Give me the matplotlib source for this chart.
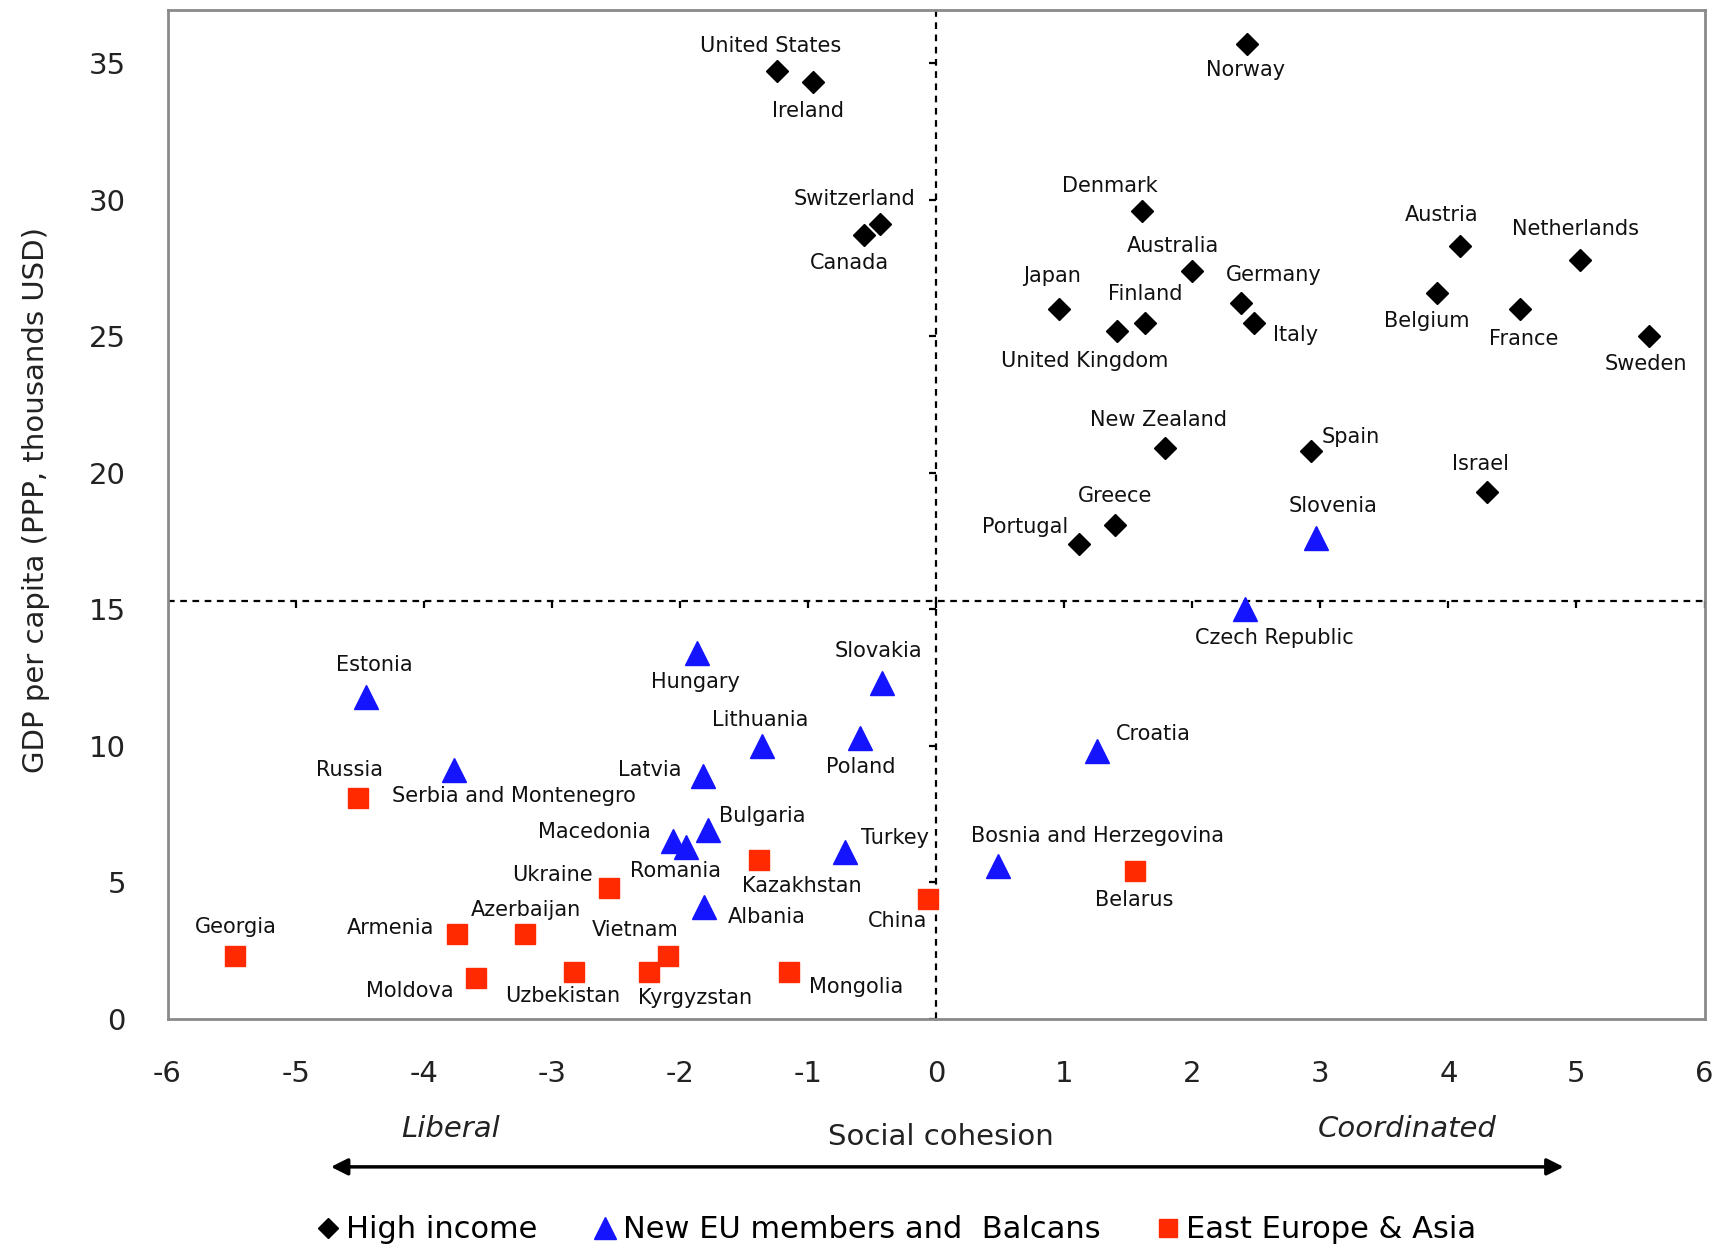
import matplotlib
matplotlib.use("Agg")
import matplotlib.pyplot as plt
import numpy as np

plt.rcParams['axes.unicode_minus'] = False

# --- data --------------------------------------------------------------
high_names = ["United States", "Ireland", "Norway", "Switzerland", "Canada",
              "Denmark", "Austria", "Netherlands", "Australia", "Germany",
              "Japan", "Belgium", "France", "Finland", "Italy",
              "United Kingdom", "Sweden", "New Zealand", "Spain", "Israel",
              "Greece", "Portugal"]
high_x = [-1.24, -0.96, 2.43, -0.44, -0.56, 1.61, 4.09, 5.03, 2.00, 2.38,
          0.96, 3.91, 4.56, 1.63, 2.48, 1.41, 5.57, 1.79, 2.93, 4.30,
          1.40, 1.12]
high_y = [34.7, 34.3, 35.7, 29.1, 28.7, 29.6, 28.3, 27.8, 27.4, 26.2,
          26.0, 26.6, 26.0, 25.5, 25.5, 25.2, 25.0, 20.9, 20.8, 19.3,
          18.1, 17.4]

eu_names = ["Slovenia", "Czech Republic", "Hungary", "Slovakia", "Estonia",
            "Croatia", "Lithuania", "Poland", "Serbia and Montenegro",
            "Latvia", "Bulgaria", "Macedonia", "Romania", "Turkey",
            "Bosnia and Herzegovina", "Albania"]
eu_x = [2.97, 2.41, -1.87, -0.42, -4.45, 1.26, -1.36, -0.59, -3.76,
        -1.82, -1.78, -2.05, -1.95, -0.71, 0.48, -1.81]
eu_y = [17.6, 15.0, 13.4, 12.3, 11.8, 9.8, 10.0, 10.3, 9.1,
        8.9, 6.9, 6.5, 6.3, 6.1, 5.6, 4.1]

ee_names = ["Russia", "Kazakhstan", "Ukraine", "Belarus", "China", "Georgia",
            "Armenia", "Azerbaijan", "Vietnam", "Kyrgyzstan", "Uzbekistan",
            "Mongolia", "Moldova"]
ee_x = [-4.51, -1.38, -2.55, 1.55, -0.06, -5.47, -3.74, -3.21, -2.09,
        -2.24, -2.83, -1.15, -3.59]
ee_y = [8.1, 5.8, 4.8, 5.4, 4.4, 2.3, 3.1, 3.1, 2.3, 1.7, 1.7, 1.7, 1.5]

gdp_split = 15.3
x_ticks = list(range(-6, 7))
y_ticks = list(range(0, 36, 5))

# label offsets in pixels (dx, dy) relative to each marker
offsets = {
    "United States": (-7, 25), "Ireland": (-5, -29), "Norway": (-2, -26),
    "Switzerland": (-25, 25), "Canada": (-15, -28), "Denmark": (-32, 25),
    "Austria": (-18, 31), "Netherlands": (-5, 31), "Australia": (-19, 25),
    "Germany": (33, 28), "Japan": (-7, 33), "Belgium": (-10, -28),
    "France": (4, -30), "Finland": (0, 29), "Italy": (42, -12),
    "United Kingdom": (-32, -30), "Sweden": (-4, -28),
    "New Zealand": (-7, 28), "Spain": (39, 14), "Israel": (-6, 28),
    "Greece": (0, 29), "Portugal": (-54, 17),
    "Slovenia": (17, 32), "Czech Republic": (30, -29), "Hungary": (-1, -29),
    "Slovakia": (-4, 32), "Estonia": (8, 32), "Croatia": (56, 17),
    "Lithuania": (-2, 26), "Poland": (0, -29),
    "Serbia and Montenegro": (60, -26), "Latvia": (-53, 6),
    "Bulgaria": (54, 14), "Macedonia": (-79, 9), "Romania": (-11, -24),
    "Turkey": (50, 14), "Bosnia and Herzegovina": (100, 30),
    "Albania": (63, -10),
    "Russia": (-9, 28), "Kazakhstan": (43, -26), "Ukraine": (-57, 13),
    "Belarus": (0, -29), "China": (-31, -22), "Georgia": (0, 29),
    "Armenia": (-66, 6), "Azerbaijan": (1, 24), "Vietnam": (-33, 26),
    "Kyrgyzstan": (46, -26), "Uzbekistan": (-11, -24), "Mongolia": (67, -15),
    "Moldova": (-66, -13),
}

fig = plt.figure(figsize=(17.27, 12.5), dpi=100)
ax = fig.add_axes([0.097, 0.185, 0.890, 0.807])

ax.plot(high_x, high_y, 'D', color='black', ms=11.5, ls='none',
        label='High income', zorder=3)
ax.plot(eu_x, eu_y, '^', color='#1414ff', ms=17, ls='none',
        label='New EU members and  Balcans', zorder=3)
ax.plot(ee_x, ee_y, 's', color='#ff2a00', ms=14.5, ls='none',
        label='East Europe & Asia', zorder=3)

for names, xs, ys in [(high_names, high_x, high_y), (eu_names, eu_x, eu_y),
                      (ee_names, ee_x, ee_y)]:
    for n, x, y in zip(names, xs, ys):
        dx, dy = offsets[n]
        ax.annotate(n, (x, y), xytext=(dx, dy), textcoords='offset pixels',
                    ha='center', va='center', fontsize=15, color='#111111')

# crossing lines with their own little ticks
ax.axhline(gdp_split, color='black', ls=(0, (3, 2.5)), lw=1.6, zorder=1)
ax.axvline(0, color='black', ls=(0, (3, 2.5)), lw=1.6, zorder=1)
ax.plot(x_ticks, [gdp_split] * len(x_ticks), ls='none', marker=3,
        color='black', ms=5, mew=1.6)
ax.plot([0] * len(y_ticks), y_ticks, ls='none', marker=0,
        color='black', ms=5, mew=1.6)

ax.set_xlim(-6, 6)
ax.set_ylim(0, 36.95)
ax.set_xticks(x_ticks)
ax.set_yticks(y_ticks)
ax.tick_params(length=0, labelsize=21, pad=30, labelcolor='#222222')
for s in ax.spines.values():
    s.set_color('#8a8a8a')
    s.set_linewidth(2)

fig.text(0.021, 0.6, 'GDP per capita (PPP, thousands USD)', rotation=90,
         ha='center', va='center', fontsize=21, color='#222222')
fig.text(0.545, 0.0907, 'Social cohesion', ha='center', va='center',
         fontsize=21, color='#222222')
fig.text(0.261, 0.097, 'Liberal', ha='center', va='center', fontsize=21,
         style='italic', color='#222222')
fig.text(0.815, 0.097, 'Coordinated', ha='center', va='center',
         fontsize=21, style='italic', color='#222222')
fig.add_artist(matplotlib.patches.FancyArrowPatch(
    (0.190, 0.0665), (0.907, 0.0665), transform=fig.transFigure,
    arrowstyle='<|-|>', mutation_scale=25, color='black', lw=2.5))

fig.legend(loc='center', bbox_to_anchor=(0.517, 0.016), ncol=3,
           frameon=False, prop={'size': 22},
           handletextpad=0.0, columnspacing=1.6, handlelength=1.2,
           markerscale=0.9)

fig.savefig('out.png', dpi=100)
